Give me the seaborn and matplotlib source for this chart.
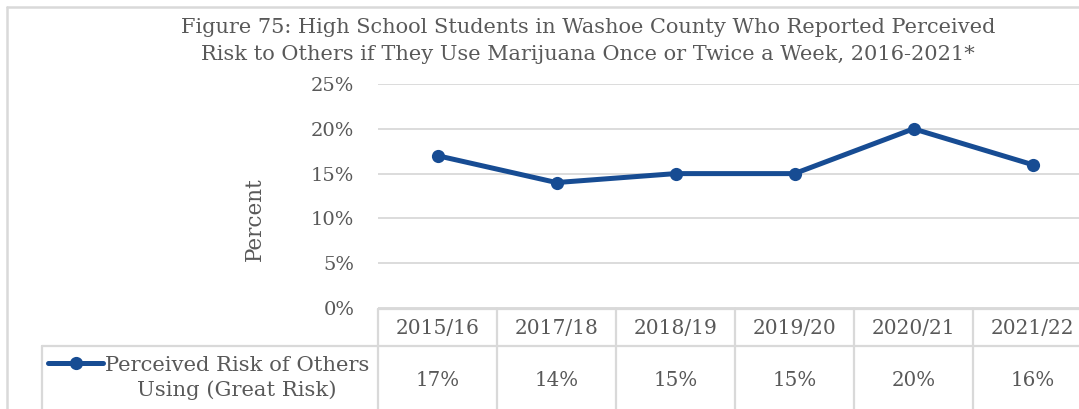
import matplotlib
matplotlib.use("Agg")
import matplotlib.pyplot as plt
import matplotlib.transforms as mtransforms
from matplotlib.lines import Line2D
import pandas as pd
import seaborn as sns

# --- data -------------------------------------------------------------
years = ["2015/16", "2017/18", "2018/19", "2019/20", "2020/21", "2021/22"]
great_risk = [17, 14, 15, 15, 20, 16]
y_ticks = [0, 5, 10, 15, 20, 25]
y_tick_labels = ["0%", "5%", "10%", "15%", "20%", "25%"]
series_name = "Perceived Risk of Others\nUsing (Great Risk)"
title = ("Figure 75: High School Students in Washoe County Who Reported Perceived\n"
         "Risk to Others if They Use Marijuana Once or Twice a Week, 2016-2021*")

# --- style ------------------------------------------------------------
BLUE = "#174C93"
GRID = "#D9D9D9"
TEXT = "#595959"
FONT = ["DejaVu Serif"]

sns.set_theme(style="white")
plt.rcParams["font.family"] = FONT

W, H = 1079, 409
fig = plt.figure(figsize=(W / 100, H / 100), dpi=100)


def fx(px):
    return px / W


def fy(py):
    return 1 - py / H


fig_tr = fig.transFigure
ax = fig.add_axes([fx(378), fy(308), fx(1092) - fx(378), fy(84) - fy(308)])

df = pd.DataFrame({"year": years, "value": great_risk})
sns.lineplot(data=df, x="year", y="value", ax=ax, sort=False, color=BLUE,
             linewidth=3.6, marker="o", markersize=9.5, markeredgewidth=0,
             zorder=3)

ax.set_xlim(-0.5, len(years) - 0.5)
ax.set_ylim(0, 25)
ax.set_yticks(y_ticks)
ax.set_yticklabels(y_tick_labels, color=TEXT, fontsize=14)
ax.set_xticks([])
ax.set_xlabel("")
ax.tick_params(axis="y", length=0, pad=17)
ax.grid(axis="y", color=GRID, linewidth=1.3)
ax.set_axisbelow(True)
for s in ax.spines.values():
    s.set_visible(False)
ax.set_ylabel("Percent", color=TEXT, fontsize=15.5)
ax.yaxis.set_label_coords(fx(266), fy(219), transform=fig_tr)

# --- data table under the plot --------------------------------------
tr = mtransforms.blended_transform_factory(ax.transData, fig_tr)
row_top, row_mid, row_bot = fy(309), fy(346), fy(430)
n = len(years)
line_kw = dict(color=GRID, linewidth=1.6, clip_on=False)

ax.add_line(Line2D([-0.5, n - 0.5], [row_top, row_top], transform=tr, **line_kw))
ax.add_line(Line2D([-0.5, n - 0.5], [row_mid, row_mid], transform=tr, **line_kw))
for k in range(n + 1):
    ax.add_line(Line2D([k - 0.5, k - 0.5], [row_top, row_bot], transform=tr, **line_kw))

for i, (yr, v) in enumerate(zip(years, great_risk)):
    ax.text(i, fy(328), yr, transform=tr, ha="center", va="center",
            color=TEXT, fontsize=14.5)
    ax.text(i, fy(380), f"{v}%", transform=tr, ha="center", va="center",
            color=TEXT, fontsize=14.3)

# legend cell
fig.add_artist(Line2D([fx(42), fx(378)], [row_mid, row_mid],
                      transform=fig_tr, **line_kw))
fig.add_artist(Line2D([fx(42), fx(42)], [row_mid, row_bot],
                      transform=fig_tr, **line_kw))
fig.add_artist(Line2D([fx(48), fx(103)], [fy(363), fy(363)],
                      transform=fig_tr, color=BLUE, linewidth=3.6,
                      solid_capstyle="round"))
fig.add_artist(Line2D([fx(76)], [fy(363)], transform=fig_tr,
                      color=BLUE, marker="o", markersize=9.5, markeredgewidth=0))
fig.text(fx(237), fy(378), series_name, ha="center", va="center",
         color=TEXT, fontsize=15.2, linespacing=1.3)

# chart frame
fig.add_artist(Line2D([fx(7), 1.05], [fy(7), fy(7)], transform=fig_tr,
                      color=GRID, linewidth=1.8))
fig.add_artist(Line2D([fx(7), fx(7)], [fy(7), -0.05], transform=fig_tr,
                      color=GRID, linewidth=1.8))

fig.text(fx(588), fy(41), title, ha="center", va="center", color=TEXT,
         fontsize=15, linespacing=1.55)

fig.savefig("out.png", dpi=100)
